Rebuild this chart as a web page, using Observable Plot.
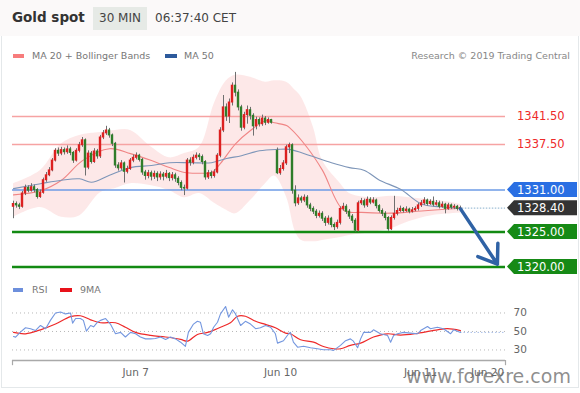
<!DOCTYPE html>
<html><head><meta charset="utf-8">
<script src="https://cdn.jsdelivr.net/npm/d3@7"></script>
<script src="https://cdn.jsdelivr.net/npm/@observablehq/plot@0.6"></script>
<style>
body{margin:0;background:#fff;font-family:"DejaVu Sans",sans-serif;}
#wrap{position:relative;width:580px;height:393px;overflow:hidden;background:#fff;}
.abs{position:absolute;white-space:nowrap;}
</style></head><body>
<div id="wrap">
  <div class="abs" style="left:0;top:0;width:580px;height:36px;background:#fbf9f9"></div>
  <div class="abs" style="left:1px;top:36px;width:576px;height:351px;border:1px solid #e4e8ea;border-top:none"></div>
  <div class="abs" style="left:12px;top:9px;font:bold 13.5px 'DejaVu Sans';color:#333">Gold spot</div>
  <div class="abs" style="left:93px;top:7px;width:54px;height:23px;background:#e6eae6;font:12px 'DejaVu Sans';color:#444;line-height:23px;text-align:center">30 MIN</div>
  <div class="abs" style="left:155px;top:11px;font:12px 'DejaVu Sans';color:#444">06:37:40 CET</div>
  <div class="abs" style="left:13px;top:54px;width:11px;height:4px;background:#f77c7c"></div>
  <div class="abs" style="left:32px;top:50px;font:9.5px 'DejaVu Sans';color:#777">MA 20 + Bollinger Bands</div>
  <div class="abs" style="left:165px;top:54px;width:12px;height:4px;background:#2d5a9c"></div>
  <div class="abs" style="left:184px;top:50px;font:9.5px 'DejaVu Sans';color:#777">MA 50</div>
  <div class="abs" style="right:10px;top:50px;font:9.5px 'DejaVu Sans';color:#888">Research © 2019 Trading Central</div>
  <div id="price" class="abs" style="left:0;top:65px"></div>
  <div class="abs" style="left:13px;top:288px;width:10px;height:4px;background:#6d8fdc"></div>
  <div class="abs" style="left:32px;top:284px;font:9.5px 'DejaVu Sans';color:#777">RSI</div>
  <div class="abs" style="left:60px;top:288px;width:12px;height:4px;background:#e8121a"></div>
  <div class="abs" style="left:80px;top:284px;font:9.5px 'DejaVu Sans';color:#777">9MA</div>
  <div id="rsi" class="abs" style="left:0;top:300px"></div>
  <div class="abs" style="left:406px;top:365px;font:19px 'DejaVu Sans';color:rgba(105,105,105,0.75)">www.forexre.com</div>
</div>
<script>
// ---- Candles (30 min bars, index 87 = weekend gap) ----
const open = [
1328.6,1329.0,1328.8,1328.6,1330.5,1331.3,1330.9,1331.4,1331.0,1330.0,
1330.6,1332.4,1333.1,1333.8,1335.2,1336.6,1336.2,1336.7,1336.4,1336.8,
1336.3,1335.2,1336.6,1337.4,1338.1,1334.2,1336.2,1335.0,1336.5,1335.8,
1338.5,1339.1,1339.5,1338.8,1337.6,1334.5,1334.1,1334.8,1333.6,1334.0,
1335.2,1335.6,1335.9,1335.3,1333.5,1333.0,1333.4,1332.9,1333.3,1332.8,
1333.2,1332.9,1333.3,1332.7,1333.1,1332.6,1332.0,1331.3,1331.2,1335.2,
1334.9,1335.6,1335.9,1335.7,1335.0,1332.8,1333.4,1333.0,1333.5,1335.9,
1339.5,1342.8,1341.5,1343.5,1345.9,1344.9,1342.8,1339.9,1341.7,1342.4,
1341.6,1340.1,1341.0,1340.4,1341.2,1340.6,1341.0,null,1336.6,1333.4,
1334.0,1334.8,1337.1,1337.4,1330.9,1329.1,1329.8,1329.5,1329.9,1328.8,
1328.3,1327.9,1327.3,1327.6,1326.9,1326.3,1326.9,1326.0,1325.7,1326.3,
1328.3,1328.6,1327.9,1327.2,1326.6,1325.2,1329.1,1329.4,1328.8,1329.6,
1329.2,1329.5,1328.7,1328.0,1327.6,1327.0,1325.4,1327.0,1327.6,1328.0,
1328.3,1328.0,1328.2,1327.9,1328.1,1328.3,1328.8,1329.1,1329.5,1329.0,
1329.3,1328.9,1329.1,1328.6,1328.9,1328.3,1328.8,1328.5,1328.6,1328.3];
const close = [
1329.0,1328.8,1328.6,1330.5,1331.3,1330.9,1331.4,1331.0,1330.0,1330.6,
1332.4,1333.1,1333.8,1335.2,1336.6,1336.2,1336.7,1336.4,1336.8,1336.3,
1335.2,1336.6,1337.4,1338.1,1334.2,1336.2,1335.0,1336.5,1335.8,1338.5,
1339.1,1339.5,1338.8,1337.6,1334.5,1334.1,1334.8,1333.6,1334.0,1335.2,
1335.6,1335.9,1335.3,1333.5,1333.0,1333.4,1332.9,1333.3,1332.8,1333.2,
1332.9,1333.3,1332.7,1333.1,1332.6,1332.0,1331.3,1331.2,1335.2,1334.9,
1335.6,1335.9,1335.7,1335.0,1332.8,1333.4,1333.0,1333.5,1335.9,1339.5,
1342.8,1341.5,1343.5,1345.9,1344.9,1342.8,1339.9,1341.7,1342.4,1341.6,
1340.1,1341.0,1340.4,1341.2,1340.6,1341.0,1340.6,null,1333.4,1334.0,
1334.8,1337.1,1337.4,1330.9,1329.1,1329.8,1329.5,1329.9,1328.8,1328.3,
1327.9,1327.3,1327.6,1326.9,1326.3,1326.9,1326.0,1325.7,1326.3,1328.3,
1328.6,1327.9,1327.2,1326.6,1325.2,1329.1,1329.4,1328.8,1329.6,1329.2,
1329.5,1328.7,1328.0,1327.6,1327.0,1325.4,1327.0,1327.6,1328.0,1328.3,
1328.0,1328.2,1327.9,1328.1,1328.3,1328.8,1329.1,1329.5,1329.0,1329.3,
1328.9,1329.1,1328.6,1328.9,1328.3,1328.8,1328.5,1328.6,1328.3,1328.4];
const high = [
1329.4,1329.3,1329.1,1330.8,1331.7,1331.6,1331.9,1331.7,1331.2,1331.0,
1332.7,1333.5,1334.2,1335.5,1336.9,1337.0,1337.1,1337.0,1337.3,1337.1,
1336.5,1336.9,1337.8,1338.5,1338.3,1336.6,1336.5,1336.9,1336.8,1338.8,
1339.5,1340.1,1339.8,1339.0,1337.8,1334.9,1335.2,1335.0,1334.4,1335.5,
1336.0,1336.3,1336.1,1335.5,1333.8,1333.8,1333.7,1333.7,1333.6,1333.6,
1333.5,1333.8,1333.5,1333.5,1333.4,1332.9,1332.3,1331.7,1335.5,1335.6,
1336.0,1336.3,1336.2,1336.0,1335.2,1333.8,1333.7,1333.9,1336.2,1339.9,
1344.5,1343.3,1344.0,1346.3,1347.8,1345.3,1343.1,1342.1,1343.0,1342.8,
1341.9,1341.4,1341.3,1341.7,1341.5,1341.3,1341.1,null,1337.0,1334.5,
1335.2,1337.4,1337.7,1337.6,1331.6,1330.3,1330.1,1330.3,1330.2,1329.1,
1328.6,1328.2,1328.0,1327.9,1327.2,1327.3,1327.1,1326.3,1326.7,1328.6,
1329.1,1328.9,1328.2,1327.5,1326.9,1329.4,1329.8,1329.7,1330.0,1329.9,
1329.9,1329.7,1328.9,1328.3,1327.9,1327.2,1327.3,1330.1,1328.4,1328.7,
1328.5,1328.6,1328.4,1328.5,1328.6,1329.1,1329.5,1329.9,1329.7,1329.6,
1330.0,1329.5,1329.4,1329.3,1329.1,1329.1,1329.0,1328.9,1328.8,1328.7];
const low = [
1326.9,1328.4,1328.2,1328.4,1330.2,1330.6,1330.7,1330.6,1329.7,1329.8,
1330.4,1332.1,1332.9,1333.6,1335.0,1335.8,1335.9,1336.0,1336.1,1335.9,
1334.8,1335.0,1336.3,1337.1,1333.0,1333.9,1334.7,1334.8,1335.4,1335.5,
1338.2,1338.8,1338.4,1337.2,1334.1,1333.7,1333.8,1332.0,1333.3,1333.8,
1334.9,1335.3,1335.0,1333.1,1332.4,1332.6,1332.3,1332.5,1332.2,1332.4,
1332.3,1332.6,1332.2,1332.3,1332.1,1331.6,1330.9,1330.2,1331.0,1334.4,
1334.6,1335.3,1335.2,1334.6,1332.4,1332.5,1332.6,1332.7,1333.3,1335.6,
1339.2,1340.8,1340.5,1343.0,1344.3,1342.3,1339.4,1339.6,1340.4,1341.0,
1338.7,1339.6,1340.0,1340.1,1340.2,1340.4,1340.4,null,1333.2,1333.1,
1333.7,1334.5,1336.2,1330.4,1328.6,1328.8,1329.1,1329.2,1328.4,1327.9,
1327.5,1326.9,1327.0,1326.5,1325.8,1326.0,1325.6,1325.2,1325.4,1326.0,
1328.0,1327.5,1326.8,1326.2,1325.0,1325.0,1328.8,1328.4,1328.5,1328.9,
1329.0,1328.3,1327.7,1327.2,1326.6,1325.1,1325.2,1326.7,1327.3,1327.8,
1327.7,1327.8,1327.6,1327.7,1327.9,1328.0,1328.5,1328.8,1328.7,1328.8,
1328.6,1328.7,1328.3,1328.4,1327.6,1328.1,1328.2,1328.2,1328.0,1328.1];

// ---- Bollinger bands (sampled at bar index) ----
const bandIdx   = [0,9,16,22,29,34,39,46,52,57,62,67,71,74,79,84,87,91,94,96,100,103,109,112,119,126,132,139,146,149];
const bandUpper = [1331.9,1333.8,1337.6,1338.8,1339.2,1339.5,1339.5,1337.1,1335.6,1336.2,1337.1,1343.4,1346.6,1347.4,1347.1,1346.4,1346.6,1346.4,1345.2,1344.2,1339.9,1335.2,1331.9,1330.5,1329.9,1330.1,1329.9,1329.6,1329.2,1328.9];
const bandLower = [1327.1,1328.5,1327.1,1327.3,1330.6,1331.2,1331.9,1331.6,1330.9,1329.9,1330.5,1329.1,1328.1,1327.6,1329.5,1331.9,1333.0,1330.0,1325.0,1323.8,1323.6,1323.8,1324.2,1324.5,1324.9,1325.5,1326.5,1327.3,1327.6,1327.7];
// ---- MA 20 ----
const ma20Idx = [0,9,16,23,32,39,46,52,57,62,66,69,74,79,84,87,91,92,98,103,110,116,126,136,149];
const ma20Val = [1330.3,1330.9,1332.4,1335.2,1336.9,1336.2,1335.2,1334.2,1333.5,1333.4,1333.5,1334.8,1337.6,1339.5,1340.9,1340.6,1340.2,1339.9,1337.0,1333.8,1328.1,1327.8,1327.7,1328.0,1328.4];
// ---- MA 50 ----
const ma50Idx = [0,9,16,22,26,32,39,46,52,59,66,71,76,82,88,92,99,106,112,117,122,129,136,142,149];
const ma50Val = [1331.2,1331.9,1332.4,1332.6,1332.1,1333.1,1334.2,1334.5,1334.9,1334.9,1334.9,1335.5,1335.9,1336.6,1336.8,1336.8,1335.9,1334.9,1334.2,1333.8,1332.4,1331.1,1329.0,1328.6,1328.4];
// ---- Key levels ----
const levelVals   = [1341.5, 1337.5, 1331.0, 1325.0, 1320.0];
const levelLabels = ["1341.50","1337.50","1331.00","1325.00","1320.00"];
const levelKinds  = ["res","res","pivot","sup","sup"];
const lastPrice = 1328.4, lastLabel = "1328.40";
const arrowTarget = 1320.4;
// ---- RSI ----
const rsiIdx = [0,0.7,2.3,4,5.7,7.3,9,10.7,12.3,14,15.7,17.3,19,19.7,20.7,22.3,23.3,24.3,25.7,26.7,28,29,30.7,32.3,34,35.7,37.3,39,40.7,42.3,44,45.7,47.3,49,50.7,52.3,54,55.7,57.3,58.3,60,61.3,62.3,63.3,64.7,65.7,66.7,68,69,70.7,71.7,73,74,75.7,77.3,79,80.7,82.3,84,85.7,87.3,88,90,91.7,92.3,93.3,94.7,96.7,99,101.3,103.3,105.7,106.7,109,110.7,112.3,113.3,114.7,115.7,116.7,119,120,122.3,124.7,125.7,126.7,128,130,132.3,134.7,135.7,138,139,141.3,143.3,145.7,146.7,149];
const rsiVal = [44.6,43.9,49.3,54,53,51,56.5,53,62,70,71,69,70,59,64,64,62,50.4,56.5,55,60,62,64,58,47.5,49,44,49,47.5,44,42,42,42.4,44,41.4,44,42,38.4,33.8,49,58,61,60,47.5,45.7,47.5,54.6,60,69,77,65.5,73.5,69,56.5,61,58,53,54,56.5,54.6,47.5,37.4,40,47.5,49,38.4,33,34,32.4,31.3,30.2,30.2,29.5,35,40,42,39.5,32.4,42,49,49,51.8,47.5,45.7,38.4,45.7,47.5,49,48.2,47.5,51,55.4,53,54.6,53,47.5,51.8,49];
const maIdx = [0,4,9,14,19,22.3,25.7,29,34,37.3,40.7,45.7,50.7,55.7,58,61.3,64.7,69,72.3,74.7,77.3,80.7,84,87.3,90.7,92.3,95.7,100,103.3,106.7,109,112.3,115.7,120,124.7,129,134.7,141.3,144.7,149];
const maVal = [49,47.5,51.8,58,66,67,62.6,59.4,59.4,54.6,49,45.7,44,41.4,39.5,46.8,49,54.6,59.4,66.5,66.5,61,57.6,54,48.2,47.5,41,38.4,33.8,31.3,31.3,35,37.4,44,47.5,46,48,51.8,53,51];
const rsiGrid = [30, 50, 70];
// ---- Time axis ----
const tickIdx = [40.7, 89, 135.7, 158];
const tickLabels = ["Jun 7", "Jun 10", "Jun 11", "Jun 20"];

const X_MAX = 164;
const FONT = "'DejaVu Sans', sans-serif";

const candles = close.map((c, i) => ({i, o: open[i], h: high[i], l: low[i], c})).filter(d => d.c != null);
const bands = bandIdx.map((i, k) => ({i, hi: bandUpper[k], lo: bandLower[k]}));
const ma20 = ma20Idx.map((i, k) => ({i, v: ma20Val[k]}));
const ma50 = ma50Idx.map((i, k) => ({i, v: ma50Val[k]}));
const levels = levelVals.map((v, k) => ({v, label: levelLabels[k], kind: levelKinds[k]}));
const rsi = rsiIdx.map((i, k) => ({i, v: rsiVal[k]}));
const rsiMa = maIdx.map((i, k) => ({i, v: maVal[k]}));
const lastIdx = candles[candles.length - 1].i;

const levelStroke = {res: "#f6a3a3", pivot: "#6d9be6", sup: "#138a13"};
const levelWidth = {res: 1.6, pivot: 1.6, sup: 2.6};

const price = Plot.plot({
  width: 580, height: 210, marginLeft: 12, marginRight: 75, marginTop: 0, marginBottom: 0,
  x: {domain: [-1/3, X_MAX], axis: null},
  y: {domain: [1318.786, 1348.786], axis: null},
  style: {background: "transparent", fontFamily: FONT, overflow: "visible"},
  marks: [
    Plot.areaY(bands, {x: "i", y1: "lo", y2: "hi", fill: "#fbd6d6", fillOpacity: 0.55, curve: "catmull-rom"}),
    Plot.ruleY(levels, {y: "v", stroke: d => levelStroke[d.kind], strokeWidth: d => levelWidth[d.kind]}),
    Plot.line(ma20, {x: "i", y: "v", stroke: "#f08585", strokeWidth: 1.1, curve: "catmull-rom"}),
    Plot.line(ma50, {x: "i", y: "v", stroke: "#7d95b8", strokeWidth: 1.1, curve: "catmull-rom"}),
    Plot.ruleX(candles, {x: "i", y1: "l", y2: "h", stroke: "#6f6f6f", strokeWidth: 1}),
    Plot.rect(candles, {x1: d => d.i - 0.4, x2: d => d.i + 0.4, y1: d => Math.min(d.o, d.c), y2: d => Math.max(d.o, d.c),
      fill: d => d.c >= d.o ? "#dc2020" : "#2f7d2a", insetTop: -0.5, insetBottom: -0.5}),
    Plot.ruleY([lastPrice], {x1: lastIdx + 0.6, x2: X_MAX, stroke: "#9fbfd6", strokeWidth: 1.2, strokeDasharray: "1.5,1.5"}),
    Plot.arrow([{x1: lastIdx, y1: lastPrice - 0.1, x2: 161.3, y2: arrowTarget}], {x1: "x1", y1: "y1", x2: "x2", y2: "y2",
      stroke: "#2f62a5", strokeWidth: 3.5, headLength: 9, headAngle: 70})
  ]
});
document.getElementById("price").appendChild(price);

// label boxes positioned through the plot's y scale
const ys = price.scale("y");
const boxFill = {pivot: "#2a6fe3", sup: "#168a16", last: "#333333"};
const svg = d3.select(price);
const g = svg.append("g").attr("font-family", FONT).attr("font-size", 11.5).attr("text-anchor", "start");
const allLabels = levels.concat([{v: lastPrice, label: lastLabel, kind: "last"}]);
allLabels.forEach(d => {
  const y = ys.apply(d.v);
  if (d.kind === "res") {
    g.append("text").attr("x", 517).attr("y", y + 4).attr("fill", "#ee2a2a").text(d.label);
  } else {
    g.append("path").attr("d", `M507,${y} L514,${y - 7.5} L577,${y - 7.5} L577,${y + 7.5} L514,${y + 7.5} Z`).attr("fill", boxFill[d.kind]);
    g.append("text").attr("x", 517).attr("y", y + 4.2).attr("fill", "#fff").text(d.label);
  }
});

const rsiPlot = Plot.plot({
  width: 580, height: 85, marginLeft: 12, marginRight: 75, marginTop: 0, marginBottom: 25,
  x: {domain: [-1/3, X_MAX], ticks: tickIdx, tickFormat: d => tickLabels[tickIdx.indexOf(d)], tickSize: 0, tickPadding: 8, label: null},
  y: {domain: [18.6, 83.5], axis: "right", ticks: rsiGrid, tickSize: 0, tickPadding: 8, label: null},
  style: {background: "transparent", fontFamily: FONT, fontSize: "10.5px", color: "#666", overflow: "visible"},
  marks: [
    Plot.ruleY(rsiGrid, {stroke: "#b8b8b8", strokeDasharray: "1,3"}),
    Plot.ruleY([rsi[rsi.length - 1].v], {x1: lastIdx, x2: X_MAX, stroke: "#a9bfe8", strokeDasharray: "1.5,2"}),
    Plot.line(rsiMa, {x: "i", y: "v", stroke: "#ee2a2a", strokeWidth: 1.2, curve: "catmull-rom"}),
    Plot.line(rsi, {x: "i", y: "v", stroke: "#7497df", strokeWidth: 1.1}),
    Plot.ruleY([18.6], {stroke: "#a9a9a9", strokeWidth: 1.5}),
    Plot.ruleX([-1/3, X_MAX], {y1: 18.6, y2: 13, stroke: "#a9a9a9", strokeWidth: 1.2})
  ]
});
document.getElementById("rsi").appendChild(rsiPlot);
</script>
</body></html>
